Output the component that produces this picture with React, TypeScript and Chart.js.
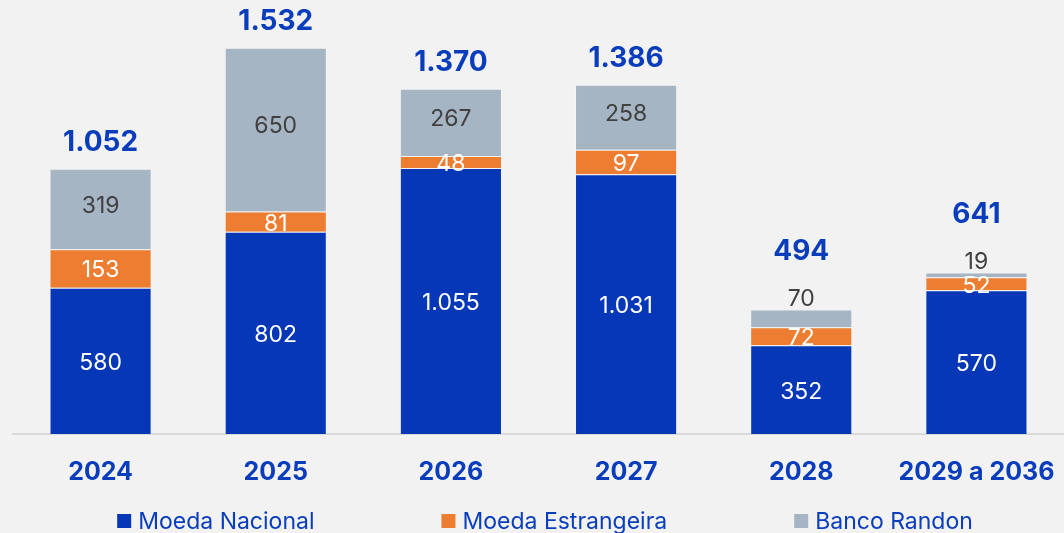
import React, { useEffect, useRef } from "react";
import { Chart, registerables } from "chart.js";

Chart.register(...registerables);

const categories = ["2024", "2025", "2026", "2027", "2028", "2029 a 2036"];
const moedaNacional = [580, 802, 1055, 1031, 352, 570];
const moedaEstrangeira = [153, 81, 48, 97, 72, 52];
const bancoRandon = [319, 650, 267, 258, 70, 19];
const totals = [1052, 1532, 1370, 1386, 494, 641];

const BLUE = "#0537b7";
const ORANGE = "#ed7d31";
const GRAY = "#a6b5c4";
const TEXT_BLUE = "#0a3dbb";
const FONT = "Inter, 'Noto Sans', sans-serif";

const fmt = (v: number) => v.toLocaleString("de-DE");

const labelsPlugin = {
  id: "segLabels",
  afterDatasetsDraw(chart: any) {
    const ctx = chart.ctx;
    ctx.save();
    ctx.textAlign = "center";
    ctx.textBaseline = "middle";
    const n = chart.data.labels.length;
    for (let i = 0; i < n; i++) {
      let topY = Infinity;
      let smallTop = false;
      chart.data.datasets.forEach((ds: any, di: number) => {
        const meta = chart.getDatasetMeta(di);
        const el = meta.data[i];
        const v = ds.data[i];
        const y0 = Math.min(el.y, el.base);
        const y1 = Math.max(el.y, el.base);
        let cy = (y0 + y1) / 2 + 2;
        let color = "#ffffff";
        if (di === 2) {
          color = "#404040";
          if (y1 - y0 < 24) {
            cy = y0 - 10;
            smallTop = true;
          } else {
            cy -= 5;
          }
        }
        topY = Math.min(topY, y0);
        ctx.font = `400 23px ${FONT}`;
        ctx.fillStyle = color;
        ctx.fillText(fmt(v), el.x, cy);
      });
      const x = chart.getDatasetMeta(0).data[i].x;
      ctx.font = `700 28px ${FONT}`;
      ctx.fillStyle = TEXT_BLUE;
      ctx.fillText(fmt(totals[i]), x, topY - (smallTop ? 58 : 26));
    }
    ctx.restore();
  },
};

const legendPlugin = {
  id: "bottomLegend",
  afterDraw(chart: any) {
    const ctx = chart.ctx;
    ctx.save();
    ctx.font = `400 23px ${FONT}`;
    ctx.textBaseline = "middle";
    ctx.textAlign = "left";
    const box = 14;
    const gapText = 7;
    const gapItem = 127;
    const items = chart.data.datasets.map((ds: any) => ({
      label: ds.label,
      color: ds.backgroundColor,
      w: box + gapText + ctx.measureText(ds.label).width,
    }));
    const total = items.reduce((s: number, it: any) => s + it.w, 0) + gapItem * (items.length - 1);
    let x = 545 - total / 2;
    const cy = 521;
    items.forEach((it: any) => {
      ctx.fillStyle = it.color;
      ctx.fillRect(x, cy - box / 2, box, box);
      ctx.fillStyle = TEXT_BLUE;
      ctx.fillText(it.label, x + box + gapText, cy + 1);
      x += it.w + gapItem;
    });
    ctx.restore();
  },
};

export default function App() {
  const ref = useRef<HTMLCanvasElement>(null);
  useEffect(() => {
    const chart = new Chart(ref.current as HTMLCanvasElement, {
      type: "bar",
      data: {
        labels: categories,
        datasets: [
          { label: "Moeda Nacional", data: moedaNacional, backgroundColor: BLUE, borderColor: "rgba(255,255,255,0.18)", borderWidth: 1 },
          { label: "Moeda Estrangeira", data: moedaEstrangeira, backgroundColor: ORANGE, borderColor: "rgba(255,255,255,0.1)", borderWidth: 1 },
          { label: "Banco Randon", data: bancoRandon, backgroundColor: GRAY, borderColor: "rgba(255,255,255,0.25)", borderWidth: 1 },
        ],
      },
      options: {
        animation: false,
        responsive: false,
        maintainAspectRatio: false,
        layout: { padding: { left: 13, right: 0, top: 0, bottom: 0 } },
        plugins: { legend: { display: false }, tooltip: { enabled: false } },
        datasets: { bar: { categoryPercentage: 1, barPercentage: 0.583 } },
        scales: {
          x: {
            stacked: true,
            grid: { display: false, drawTicks: false },
            border: { display: true, color: "#d9d9d9", width: 2 },
            ticks: { color: TEXT_BLUE, font: { family: FONT, size: 25, weight: "bold" }, padding: 23, maxRotation: 0, autoSkip: false },
            afterFit: (s: any) => { s.height = 99; s.paddingLeft = 0; s.paddingRight = 0; },
          },
          y: {
            stacked: true,
            display: false,
            min: 0,
            max: 1722,
          },
        },
      },
      plugins: [labelsPlugin, legendPlugin],
    } as any);
    return () => chart.destroy();
  }, []);
  return (
    <div style={{ position: "fixed", left: 0, top: 0, width: 1064, height: 533, background: "#f2f2f2" }}>
      <canvas ref={ref} width={1064} height={533} style={{ display: "block" }} />
    </div>
  );
}
